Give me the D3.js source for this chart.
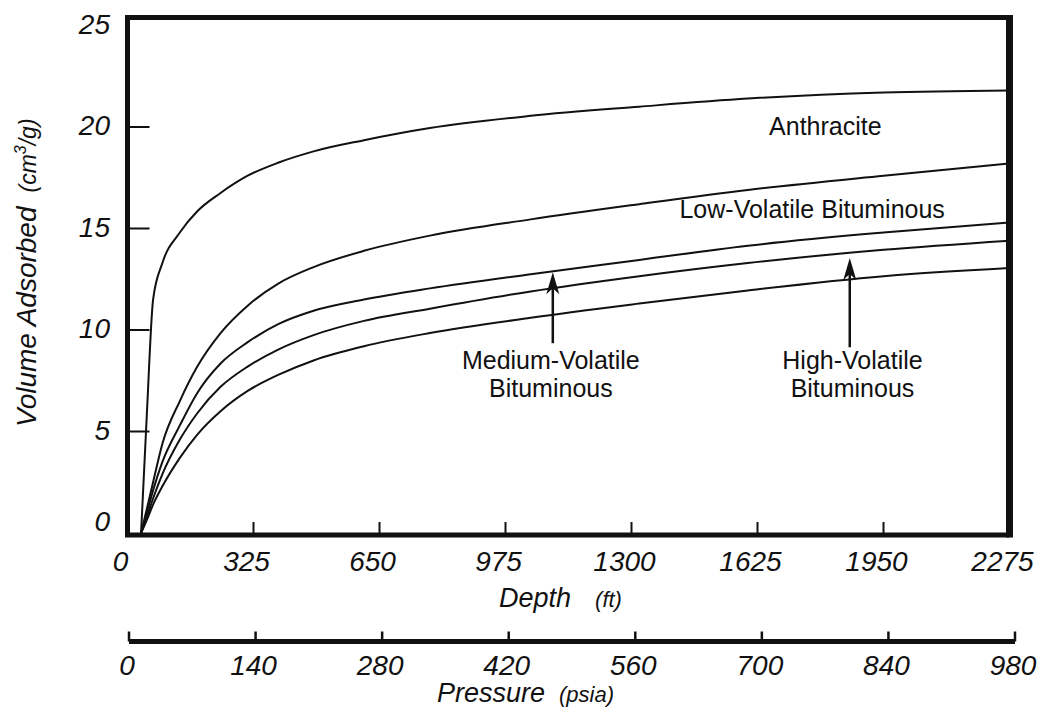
<!DOCTYPE html>
<html>
<head>
<meta charset="utf-8">
<script src="https://cdn.jsdelivr.net/npm/d3@7"></script>
<style>
	body{margin:0;background:#fff;}
	svg{display:block;font-family:"Liberation Sans",Arial,sans-serif;}
</style>
</head>
<body>
<div id="chart"></div>
<script>
// depth (ft) shared by every curve, volumes in cm3/g
var depth          = [35, 50, 66, 90, 135, 180, 240, 310, 390, 480, 610, 780, 1040, 1320, 1600, 1950, 2275];
var anthracite     = [0, 5.9, 11.5, 13.3, 14.8, 15.85, 16.75, 17.6, 18.25, 18.8, 19.35, 19.95, 20.55, 21.0, 21.4, 21.7, 21.8];
var lowVolatile    = [0, 1.2, 2.5, 4.4, 6.5, 8.2, 9.85, 11.2, 12.3, 13.1, 13.9, 14.65, 15.45, 16.2, 16.9, 17.6, 18.2];
var mediumVolatile = [0, 1.0, 2.1, 3.5, 5.3, 6.9, 8.35, 9.4, 10.3, 10.95, 11.5, 12.05, 12.75, 13.45, 14.15, 14.8, 15.3];
var highVolatileA  = [0, 0.8, 1.7, 2.9, 4.6, 5.9, 7.2, 8.2, 9.05, 9.75, 10.45, 11.05, 11.9, 12.65, 13.3, 13.95, 14.4];
var highVolatileB  = [0, 0.65, 1.4, 2.3, 3.7, 4.85, 6.0, 7.0, 7.8, 8.5, 9.2, 9.85, 10.6, 11.3, 11.95, 12.65, 13.05];

var depthTicks    = [0, 325, 650, 975, 1300, 1625, 1950, 2275];
var pressureTicks = [0, 140, 280, 420, 560, 700, 840, 980];
var volumeTicks   = [0, 5, 10, 15, 20, 25];

// labels: [text, depth, volume at baseline]
var curveLabels = [
	['Anthracite', 1800, 19.6],
	['Low-Volatile Bituminous', 1766, 15.5],
	['Medium-Volatile', 1092, 8.1],
	['Bituminous', 1092, 6.7],
	['High-Volatile', 1870, 8.1],
	['Bituminous', 1870, 6.7]
];
// arrows: [depth, volume at tail, volume at tip]
var arrows = [
	[1097, 9.35, 12.85],
	[1863, 9.15, 13.55]
];

var width = 1044, height = 719;
var svg = d3.select('#chart').append('svg')
	.attr('width', width)
	.attr('height', height);

var x = d3.scaleLinear().domain([0, 2275]).range([127.5, 1009.5]);
var xp = d3.scaleLinear().domain([0, 980]).range([129, 1015]);
var y = d3.scaleLinear().domain([0, 25]).range([533, 25.5]);

var ink = '#111';

// curves
var line = d3.line()
	.x(function(d){ return x(d[0]); })
	.y(function(d){ return y(d[1]); })
	.curve(d3.curveMonotoneX);
[anthracite, lowVolatile, mediumVolatile, highVolatileA, highVolatileB].forEach(function(vals){
	svg.append('path')
		.attr('d', line(d3.zip(depth, vals)))
		.attr('fill', 'none')
		.attr('stroke', ink)
		.attr('stroke-width', 2);
});

// y ticks inside the frame
svg.append('g').selectAll('line')
	.data(volumeTicks.slice(1, -1))
	.enter().append('line')
	.attr('x1', x(0)).attr('x2', x(0) + 22)
	.attr('y1', function(d){ return y(d); })
	.attr('y2', function(d){ return y(d); })
	.attr('stroke', ink).attr('stroke-width', 2);
svg.append('g').selectAll('text')
	.data(volumeTicks)
	.enter().append('text')
	.attr('x', 110)
	.attr('y', function(d){ return Math.min(y(d) + 8, y(0) - 2); })
	.attr('text-anchor', 'end')
	.attr('font-size', 28)
	.attr('font-style', 'italic')
	.attr('fill', ink)
	.text(function(d){ return d; });

// depth ticks inside the frame
svg.append('g').selectAll('line')
	.data(depthTicks.slice(1, -1))
	.enter().append('line')
	.attr('x1', function(d){ return x(d); })
	.attr('x2', function(d){ return x(d); })
	.attr('y1', 533).attr('y2', 522)
	.attr('stroke', ink).attr('stroke-width', 2);
svg.append('g').selectAll('text')
	.data(depthTicks)
	.enter().append('text')
	.attr('x', function(d){ return x(d) - 7; })
	.attr('y', 571)
	.attr('text-anchor', 'middle')
	.attr('font-size', 28)
	.attr('font-style', 'italic')
	.attr('fill', ink)
	.text(function(d){ return d; });

// frame
var frameTop = y(25) - 8;
svg.append('path')
	.attr('d', 'M' + x(0) + ',535V' + frameTop + 'H' + x(2275))
	.attr('fill', 'none').attr('stroke', ink).attr('stroke-width', 5);
svg.append('line')
	.attr('x1', x(0) - 2.5).attr('x2', x(2275))
	.attr('y1', 535).attr('y2', 535)
	.attr('stroke', ink).attr('stroke-width', 5);
svg.append('line')
	.attr('x1', x(2275)).attr('x2', x(2275))
	.attr('y1', frameTop - 2.5).attr('y2', 537.5)
	.attr('stroke', ink).attr('stroke-width', 7);

// pressure axis
var py = 641.5;
svg.append('line')
	.attr('x1', xp(0)).attr('x2', xp(980))
	.attr('y1', py).attr('y2', py)
	.attr('stroke', ink).attr('stroke-width', 5);
svg.append('g').selectAll('line')
	.data(pressureTicks)
	.enter().append('line')
	.attr('x1', function(d){ return xp(d); })
	.attr('x2', function(d){ return xp(d); })
	.attr('y1', py).attr('y2', py - 10)
	.attr('stroke', ink).attr('stroke-width', 2.5);
svg.append('g').selectAll('text')
	.data(pressureTicks)
	.enter().append('text')
	.attr('x', function(d){ return xp(d) - 2; })
	.attr('y', 675)
	.attr('text-anchor', 'middle')
	.attr('font-size', 28)
	.attr('font-style', 'italic')
	.attr('fill', ink)
	.text(function(d){ return d; });

// axis titles
var t = svg.append('text')
	.attr('x', 499).attr('y', 607)
	.attr('font-style', 'italic').attr('fill', ink);
t.append('tspan').attr('font-size', 27).text('Depth');
t.append('tspan').attr('font-size', 22).attr('dx', 24).text('(ft)');

t = svg.append('text')
	.attr('x', 437).attr('y', 702)
	.attr('font-style', 'italic').attr('fill', ink);
t.append('tspan').attr('font-size', 27).text('Pressure');
t.append('tspan').attr('font-size', 22).attr('dx', 14).text('(psia)');

t = svg.append('text')
	.attr('transform', 'translate(36,427) rotate(-90)')
	.attr('font-style', 'italic').attr('fill', ink);
t.append('tspan').attr('font-size', 28).text('Volume Adsorbed');
t.append('tspan').attr('font-size', 23).attr('dx', 14).text('(cm');
t.append('tspan').attr('font-size', 16).attr('dy', -10).text('3');
t.append('tspan').attr('font-size', 23).attr('dy', 10).text('/g)');

// curve labels
svg.append('g').selectAll('text')
	.data(curveLabels)
	.enter().append('text')
	.attr('x', function(d){ return x(d[1]); })
	.attr('y', function(d){ return y(d[2]); })
	.attr('text-anchor', 'middle')
	.attr('font-size', 25)
	.attr('fill', ink)
	.text(function(d){ return d[0]; });

// arrows
var a = svg.append('g').selectAll('g')
	.data(arrows)
	.enter().append('g');
a.append('line')
	.attr('x1', function(d){ return x(d[0]); })
	.attr('x2', function(d){ return x(d[0]); })
	.attr('y1', function(d){ return y(d[1]); })
	.attr('y2', function(d){ return y(d[2]) + 12; })
	.attr('stroke', ink).attr('stroke-width', 2.5);
a.append('path')
	.attr('d', function(d){
		var ax = x(d[0]), ay = y(d[2]);
		return 'M' + ax + ',' + ay + 'L' + (ax - 6.5) + ',' + (ay + 22) + 'L' + ax + ',' + (ay + 16) + 'L' + (ax + 6.5) + ',' + (ay + 22) + 'Z';
	})
	.attr('fill', ink);
</script>
</body>
</html>
